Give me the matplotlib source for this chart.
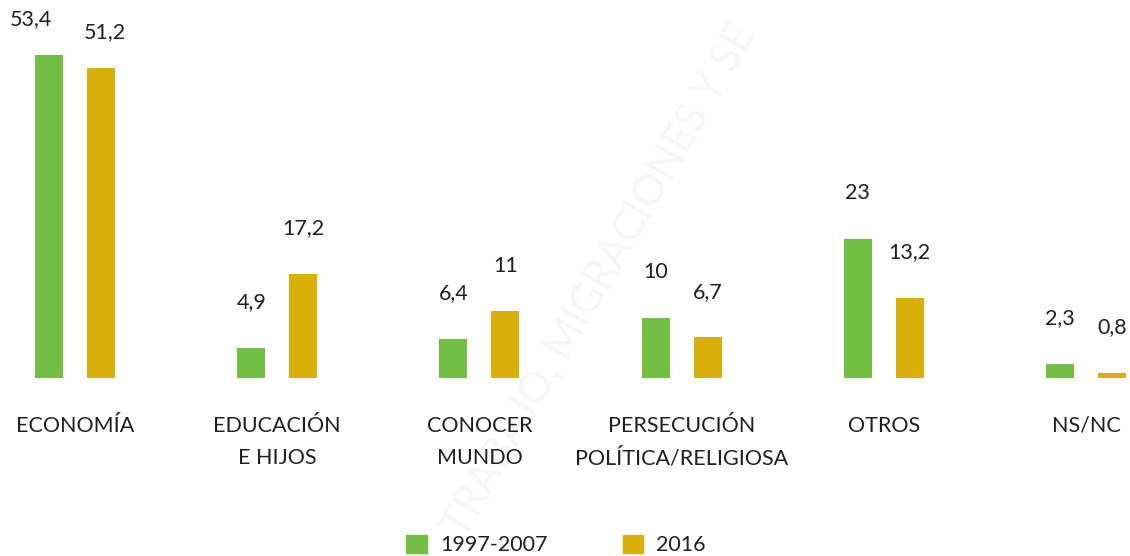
import matplotlib.pyplot as plt
from matplotlib.patches import Patch
import numpy as np

plt.rcParams['font.family'] = ['Lato', 'DejaVu Sans']

categorias = ['ECONOMÍA', 'EDUCACIÓN\nE HIJOS', 'CONOCER\nMUNDO',
              'PERSECUCIÓN\nPOLÍTICA/RELIGIOSA', 'OTROS', 'NS/NC']
serie_1997 = [53.4, 4.9, 6.4, 10, 23, 2.3]
serie_2016 = [51.2, 17.2, 11, 6.7, 13.2, 0.8]
series = ['1997-2007', '2016']

verde = '#72BF44'
amarillo = '#D9B00A'
texto = '#231F20'
fs = 15.5

W, H = 1130, 556
fig = plt.figure(figsize=(W / 100, H / 100), dpi=100)
# baseline at y=378 px, ~6.05 px per unit
ax = fig.add_axes([0, (H - 378) / H, 1, 363 / H])
ax.set_ylim(0, 60)
paso = 202.2
ax.set_xlim(-75 / paso, (W - 75) / paso)
ax.patch.set_alpha(0)

x = np.arange(len(categorias))
ancho = 28 / paso
desp = 26 / paso

b1 = ax.bar(x - desp, serie_1997, width=ancho, color=verde, zorder=2)
b2 = ax.bar(x + desp, serie_2016, width=ancho, color=amarillo, zorder=2)

def fmt(v):
    return ('%g' % v).replace('.', ',')

# label offsets in points (first group sits lower, as in the original)
for barras, vals, dx0 in ((b1, serie_1997, -13), (b2, serie_2016, 3)):
    for i, (r, v) in enumerate(zip(barras, vals)):
        dy = 26 if i == 0 else 33
        dx = dx0 if i == 0 else 0
        ax.annotate(fmt(v), (r.get_x() + r.get_width() / 2, v),
                    xytext=(dx, dy), textcoords='offset points',
                    ha='center', va='center', fontsize=fs, color=texto)

ax.set_xticks(x)
ax.set_xticklabels(categorias, fontsize=fs, color=texto, linespacing=1.75)
ax.tick_params(axis='x', length=0, pad=27)
ax.set_yticks([])
for s in ax.spines.values():
    s.set_visible(False)

# marca de agua
fig.text(600 / W, 1 - 280 / H, 'TRABAJO, MIGRACIONES Y SE', rotation=60,
         fontsize=30, color='#f6f6f6', ha='center', va='center', zorder=-1)

handles = [Patch(color=verde), Patch(color=amarillo)]
fig.legend(handles, series, loc='center', bbox_to_anchor=(556 / W, 11 / H),
           ncol=2, frameon=False, fontsize=fs, handlelength=0.95,
           handleheight=0.95, handletextpad=0.6, columnspacing=3.5,
           borderpad=0, labelcolor=texto)

fig.savefig('out.png', dpi=100)
